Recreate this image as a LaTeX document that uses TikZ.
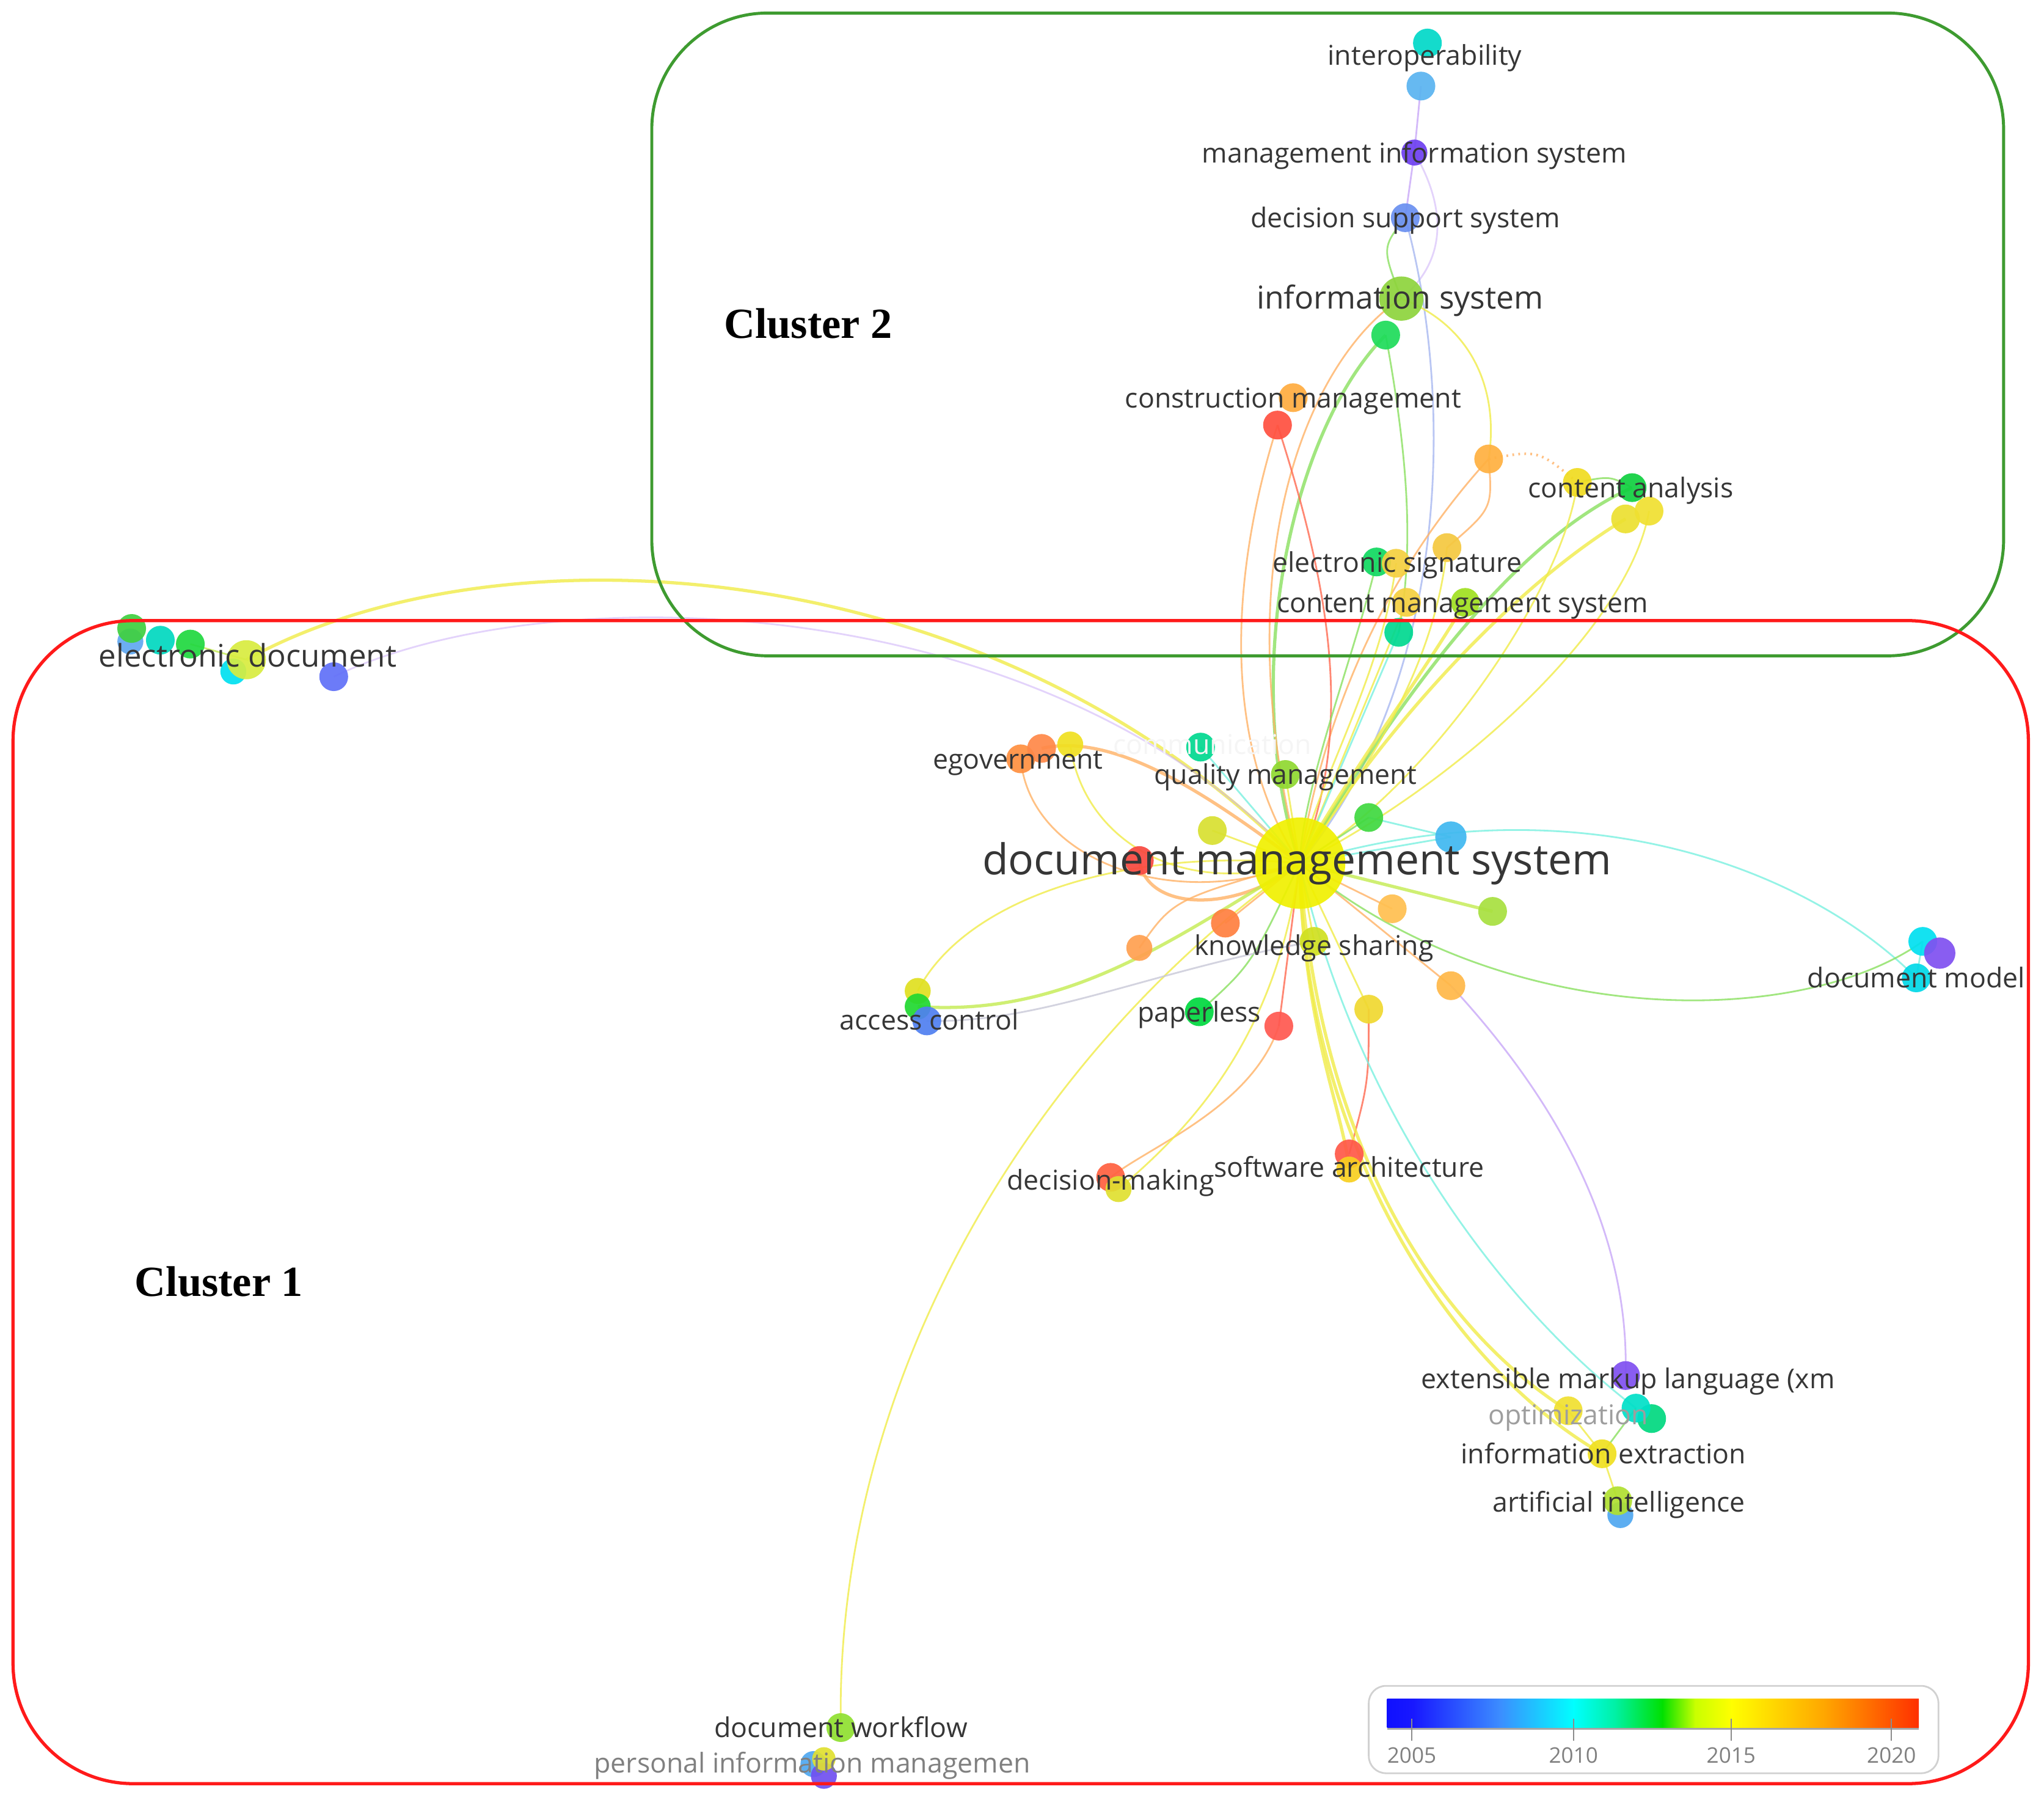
\documentclass[tikz,border=0pt]{standalone}
\usepackage{fontspec}
\setmainfont{Open Sans}
\newfontfamily\clfont{Liberation Serif}
\definecolor{txt}{HTML}{363636}
\definecolor{clgreen}{HTML}{3E9B30}
\definecolor{clred}{HTML}{FF1A1A}
\definecolor{edY}{HTML}{F0EC48}
\definecolor{edO}{HTML}{FFB266}
\definecolor{edR}{HTML}{FF6A50}
\definecolor{edG}{HTML}{8AE060}
\definecolor{edYG}{HTML}{C4EC50}
\definecolor{edC}{HTML}{7AF0E0}
\definecolor{edB}{HTML}{A8B8F0}
\definecolor{edV}{HTML}{C8A8F8}
\definecolor{edGray}{HTML}{C8C8D8}
\definecolor{gA}{HTML}{1010FF}
\definecolor{gB}{HTML}{1818FF}
\definecolor{gC}{HTML}{3C8CFF}
\definecolor{gD}{HTML}{00FFFF}
\definecolor{gE}{HTML}{00F0A0}
\definecolor{gF}{HTML}{00E000}
\definecolor{gG}{HTML}{C8FF00}
\definecolor{gH}{HTML}{FFFF00}
\definecolor{gI}{HTML}{FFA500}
\definecolor{gJ}{HTML}{FF3000}
\begin{document}
\begin{tikzpicture}[x=0.02134cm,y=-0.02134cm,
  lk/.style={draw=#1, line width=0.8pt, opacity=0.8},
  lkb/.style={draw=#1, line width=1.5pt, opacity=0.8},
  dot/.code={\definecolor{dotcol}{HTML}{#1}\pgfkeysalso{circle, fill=dotcol, inner sep=0pt, minimum size=13.4pt, opacity=0.92}},
  lbl/.style={text=txt, font=\fontsize{12.7}{14}\selectfont, inner sep=0pt, anchor=mid, yshift=-2pt},
  clbl/.style={text=black, font=\clfont\bfseries\fontsize{20}{22}\selectfont, inner sep=0pt},
  tick/.style={draw=black!45, line width=0.6pt}]
\useasboundingbox (0,0) rectangle (1568,1380.5);
\fill[white] (0,0) rectangle (1568,1380.5);

% ---------- keyword positions ----------
\coordinate (io1) at (1095,33);  \coordinate (io2) at (1090,66);
\coordinate (mis) at (1085,117); \coordinate (dss) at (1078,167);
\coordinate (is) at (1075,229);  \coordinate (is2) at (1063,257);
\coordinate (cm1) at (992,305);  \coordinate (cm2) at (980,326);
\coordinate (or1) at (1142,352);
\coordinate (ca1) at (1210,370); \coordinate (ca2) at (1252,374);
\coordinate (ca3) at (1247,398); \coordinate (ca4) at (1265,392);
\coordinate (es1) at (1056,431); \coordinate (es2) at (1071,432);
\coordinate (es3) at (1110,420);
\coordinate (cms1) at (1079,462); \coordinate (cms2) at (1124,462);
\coordinate (cms3) at (1073,485);
\coordinate (ed0) at (100,492); \coordinate (ed1) at (101,482);
\coordinate (ed2) at (123,491); \coordinate (ed3) at (146,494);
\coordinate (ed4) at (179,515); \coordinate (ed5) at (189,506);
\coordinate (ed6) at (256,519);
\coordinate (eg1) at (783,582); \coordinate (eg2) at (799,574);
\coordinate (eg3) at (821,571);
\coordinate (tq) at (921,573);  \coordinate (qm) at (986,594);
\coordinate (yg) at (930,637);  \coordinate (dms) at (997,662);
\coordinate (rd) at (874,660);  \coordinate (gr) at (1050,627);
\coordinate (lb) at (1113,642); \coordinate (or2) at (1068,697);
\coordinate (yg2) at (1145,699); \coordinate (or3) at (940,708);
\coordinate (or4) at (874,727); \coordinate (ks) at (1008,722);
\coordinate (or5) at (1113,756); \coordinate (ye) at (1050,774);
\coordinate (pl) at (920,776);  \coordinate (rd2) at (981,787);
\coordinate (ac1) at (704,760); \coordinate (ac2) at (704,772);
\coordinate (ac3) at (711,783);
\coordinate (dm1) at (1475,722); \coordinate (dm2) at (1488,731);
\coordinate (dm3) at (1470,750);
\coordinate (dmk1) at (852,903); \coordinate (dmk2) at (858,912);
\coordinate (sa1) at (1035,885); \coordinate (sa2) at (1035,897);
\coordinate (xml) at (1247,1055);
\coordinate (op1) at (1203,1082); \coordinate (op2) at (1255,1080);
\coordinate (op3) at (1267,1088);
\coordinate (ie) at (1229,1115);
\coordinate (ai1) at (1241,1151); \coordinate (ai2) at (1243,1162);
\coordinate (dw) at (645,1325);
\coordinate (pim1) at (624,1353); \coordinate (pim2) at (632,1349);
\coordinate (pim3) at (632,1362);

% ---------- links ----------
\draw[lkb=edY] (ed5) .. controls (380,400) and (760,420) .. (dms);
\draw[lk=edV, opacity=.5] (ed6) .. controls (420,440) and (800,450) .. (dms);
\draw[lk=edYG] (ed3) -- (ed5);
\draw[lk=edY] (dms) .. controls (800,800) and (640,1050) .. (dw);
\draw[lk=edV] (io2) -- (mis);
\draw[lk=edV] (mis) -- (dss);
\draw[lk=edV, opacity=.5] (mis) .. controls (1110,160) and (1110,200) .. (is);
\draw[lk=edG] (dss) .. controls (1060,190) .. (is);
\draw[lk=edB] (dss) .. controls (1115,300) and (1115,520) .. (dms);
\draw[lkb=edG] (is2) .. controls (990,330) and (950,520) .. (dms);
\draw[lk=edG] (is2) .. controls (1080,350) and (1085,420) .. (cms3);
\draw[lk=edO] (is) .. controls (1010,270) and (935,420) .. (dms);
\draw[lk=edY] (is) .. controls (1130,250) and (1150,300) .. (or1);
\draw[lk=edO] (or1) .. controls (1145,390) .. (es3);
\draw[lk=edO] (or1) .. controls (1080,420) and (1020,520) .. (dms);
\draw[lk=edO, dotted, line width=1.2pt] (or1) .. controls (1180,345) .. (ca1);
\draw[lk=edR] (cm2) .. controls (1020,450) and (1040,560) .. (dms);
\draw[lk=edO] (cm2) .. controls (950,420) and (930,560) .. (dms);
\draw[lkb=edY] (ca3) .. controls (1160,450) and (1060,560) .. (dms);
\draw[lkb=edG] (ca2) .. controls (1150,420) and (1060,560) .. (dms);
\draw[lk=edY] (ca4) .. controls (1250,480) and (1120,600) .. (dms);
\draw[lk=edY] (ca1) .. controls (1200,450) and (1100,600) .. (dms);
\draw[lk=edG] (ca2) .. controls (1235,365) .. (ca1);
\draw[lk=edY] (es2) .. controls (1060,520) and (1010,600) .. (dms);
\draw[lk=edG] (es1) .. controls (1040,500) and (1000,600) .. (dms);
\draw[lk=edY] (cms1) -- (dms);
\draw[lkb=edY] (cms2) .. controls (1090,520) and (1030,600) .. (dms);
\draw[lk=edC] (cms3) -- (dms);
\draw[lk=edY] (es3) .. controls (1100,520) and (1040,600) .. (dms);
\draw[lk=edO] (eg1) .. controls (790,660) and (900,700) .. (dms);
\draw[lkb=edO] (eg2) .. controls (860,560) and (940,620) .. (dms);
\draw[lk=edY] (eg3) .. controls (830,640) and (900,690) .. (dms);
\draw[lk=edC] (tq) -- (dms);
\draw[lk=edY] (qm) -- (dms);
\draw[lk=edY] (yg) -- (dms);
\draw[lkb=edO] (rd) .. controls (880,700) and (950,700) .. (dms);
\draw[lk=edG] (gr) -- (dms);
\draw[lk=edC] (gr) -- (lb);
\draw[lk=edC] (lb) -- (dms);
\draw[lk=edO] (or2) -- (dms);
\draw[lkb=edYG] (yg2) -- (dms);
\draw[lk=edO] (or3) -- (dms);
\draw[lk=edO] (or4) .. controls (900,690) .. (dms);
\draw[lk=edY] (ks) -- (dms);
\draw[lk=edO] (or5) -- (dms);
\draw[lk=edY] (ye) -- (dms);
\draw[lk=edG] (pl) .. controls (960,740) .. (dms);
\draw[lk=edR] (rd2) -- (dms);
\draw[lk=edY] (ac1) .. controls (740,690) and (860,650) .. (dms);
\draw[lkb=edYG] (ac2) .. controls (820,780) and (900,720) .. (dms);
\draw[lk=edGray] (ac3) .. controls (800,785) and (880,745) .. (ks);
\draw[lk=edC] (dms) .. controls (1200,600) and (1380,660) .. (dm3);
\draw[lk=edG] (dms) .. controls (1150,790) and (1380,790) .. (dm1);
\draw[lk=edC] (dm1) -- (dm3);
\draw[lkb=edY] (dms) .. controls (1000,790) and (1030,850) .. (sa2);
\draw[lk=edR] (ye) .. controls (1050,830) .. (sa1);
\draw[lk=edO] (rd2) .. controls (960,850) and (880,880) .. (dmk1);
\draw[lk=edY] (dms) .. controls (980,790) and (920,860) .. (dmk2);
\draw[lkb=edY] (dms) .. controls (1010,860) and (1090,1010) .. (op1);
\draw[lkb=edY] (dms) .. controls (1000,860) and (1100,1040) .. (ie);
\draw[lk=edC] (dms) .. controls (1040,850) and (1150,1000) .. (op2);
\draw[lk=edV] (or5) .. controls (1200,850) and (1250,950) .. (xml);
\draw[lk=edY] (ie) -- (ai1);
\draw[lk=edG] (op2) -- (ie);
\draw[lk=edY] (op1) -- (ie);

% ---------- keyword circles ----------
\node[dot=00D8C8] (d-io1) at (io1) {};
\node[dot=5AB4F0] (d-io2) at (io2) {};
\node[dot=6E40F0, minimum size=12.1pt] (d-mis) at (mis) {};
\node[dot=6A90F0] (d-dss) at (dss) {};
\node[dot=8ED43C, minimum size=20.6pt] (d-is) at (is) {};
\node[dot=1EDC5A] (d-is2) at (is2) {};
\node[dot=FFAC40] (d-cm1) at (cm1) {};
\node[dot=FF5040] (d-cm2) at (cm2) {};
\node[dot=FFB040] (d-or1) at (or1) {};
\node[dot=F0DC20] (d-ca1) at (ca1) {};
\node[dot=ECE030] (d-ca3) at (ca3) {};
\node[dot=F0E030] (d-ca4) at (ca4) {};
\node[dot=10D040] (d-ca2) at (ca2) {};
\node[dot=F5C840] (d-es3) at (es3) {};
\node[dot=10D860] (d-es1) at (es1) {};
\node[dot=F5D040] (d-es2) at (es2) {};
\node[dot=F5D040] (d-cms1) at (cms1) {};
\node[dot=A0E020] (d-cms2) at (cms2) {};
\node[dot=00D890] (d-cms3) at (cms3) {};
\node[dot=60A8F0, minimum size=12.1pt] (d-ed0) at (ed0) {};
\node[dot=40D040] (d-ed1) at (ed1) {};
\node[dot=00D8C0] (d-ed2) at (ed2) {};
\node[dot=20D840] (d-ed3) at (ed3) {};
\node[dot=00E0F0, minimum size=12.1pt] (d-ed4) at (ed4) {};
\node[dot=D8EC40, minimum size=18.2pt] (d-ed5) at (ed5) {};
\node[dot=6070F8] (d-ed6) at (ed6) {};
\node[dot=FF9040] (d-eg1) at (eg1) {};
\node[dot=FF8848] (d-eg2) at (eg2) {};
\node[dot=F0E020, minimum size=12.1pt] (d-eg3) at (eg3) {};
\node[dot=00D890] (d-tq) at (tq) {};
\node[dot=90D830] (d-qm) at (qm) {};
\node[dot=D8E030] (d-yg) at (yg) {};
\node[dot=F84840] (d-rd) at (rd) {};
\node[dot=40D840] (d-gr) at (gr) {};
\node[dot=40B8F0, minimum size=14.6pt] (d-lb) at (lb) {};
\node[dot=FFC050] (d-or2) at (or2) {};
\node[dot=A8E040] (d-yg2) at (yg2) {};
\node[dot=FF8040] (d-or3) at (or3) {};
\node[dot=FFA050, minimum size=12.1pt] (d-or4) at (or4) {};
\node[dot=D0E020] (d-ks) at (ks) {};
\node[dot=FFB848] (d-or5) at (or5) {};
\node[dot=F0D830] (d-ye) at (ye) {};
\node[dot=00D840] (d-pl) at (pl) {};
\node[dot=FF5850] (d-rd2) at (rd2) {};
\node[dot=F0F000, minimum size=42.5pt] (d-dms) at (dms) {};
\node[dot=E0E020, minimum size=12.1pt] (d-ac1) at (ac1) {};
\node[dot=20D830, minimum size=12.1pt] (d-ac2) at (ac2) {};
\node[dot=5080F0] (d-ac3) at (ac3) {};
\node[dot=00E0F0] (d-dm1) at (dm1) {};
\node[dot=00D8E8] (d-dm3) at (dm3) {};
\node[dot=8050F0, minimum size=14.6pt] (d-dm2) at (dm2) {};
\node[dot=FF6040] (d-dmk1) at (dmk1) {};
\node[dot=E0E030, minimum size=12.1pt] (d-dmk2) at (dmk2) {};
\node[dot=FF5848] (d-sa1) at (sa1) {};
\node[dot=F8D020, minimum size=12.1pt] (d-sa2) at (sa2) {};
\node[dot=8050F0] (d-xml) at (xml) {};
\node[dot=F0E030] (d-op1) at (op1) {};
\node[dot=00D880] (d-op3) at (op3) {};
\node[dot=00E0C8] (d-op2) at (op2) {};
\node[dot=F0E020] (d-ie) at (ie) {};
\node[dot=50A8F0, minimum size=12.1pt] (d-ai2) at (ai2) {};
\node[dot=B0E030] (d-ai1) at (ai1) {};
\node[dot=90E030] (d-dw) at (dw) {};
\node[dot=50A8F0, minimum size=12.1pt] (d-pim1) at (pim1) {};
\node[dot=7050F0, minimum size=12.1pt] (d-pim3) at (pim3) {};
\node[dot=E0E030, minimum size=10.9pt] (d-pim2) at (pim2) {};

% ---------- cluster frames ----------
\draw[clgreen, line width=1.4pt, rounded corners=54pt] (500,10) rectangle (1537,503);
\draw[clred, line width=1.5pt, rounded corners=56pt] (10,476) rectangle (1556,1368);

% ---------- labels ----------
\node[lbl] (l-io) at (1093,42) {interoperability};
\node[lbl] (l-mis) at (1085,117) {management information system};
\node[lbl] (l-dss) at (1078,167) {decision support system};
\node[lbl, font=\fontsize{14.7}{16}\selectfont] (l-is) at (1074,229) {information system};
\node[lbl] (l-cm) at (992,305) {construction management};
\node[lbl] (l-ca) at (1251,374) {content analysis};
\node[lbl] (l-es) at (1072,431) {electronic signature};
\node[lbl] (l-cms) at (1122,462) {content management system};
\node[lbl, font=\fontsize{14.5}{16}\selectfont] (l-ed) at (190,504) {electronic document};
\node[lbl] (l-eg) at (781,582) {egovernment};
\node[lbl, text=black!4] (l-com) at (930,571) {communication};
\node[lbl] (l-qm) at (986,594) {quality management};
\node[lbl, font=\fontsize{19.8}{22}\selectfont, yshift=-2pt] (l-dms) at (995,660) {document management system};
\node[lbl] (l-ks) at (1008,725) {knowledge sharing};
\node[lbl] (l-ac) at (713,782) {access control};
\node[lbl] (l-pl) at (920,776) {paperless};
\node[lbl] (l-dm) at (1470,750) {document model};
\node[lbl] (l-dmk) at (852,905) {decision-making};
\node[lbl] (l-sa) at (1035,895) {software architecture};
\node[lbl] (l-xml) at (1249,1057) {extensible markup language (xm};
\node[lbl, text=black!38] (l-op) at (1203,1085) {optimization};
\node[lbl] (l-ie) at (1230,1115) {information extraction};
\node[lbl] (l-ai) at (1242,1152) {artificial intelligence};
\node[lbl] (l-dw) at (645,1325) {document workflow};
\node[lbl, text=black!50] (l-pim) at (623,1352) {personal information managemen};

\node[clbl] (c2) at (620,248) {Cluster 2};
\node[clbl] (c1) at (168,983) {Cluster 1};

% ---------- colour legend ----------
\draw[black!18, line width=0.8pt, rounded corners=8pt, fill=white] (1050,1293) rectangle (1487,1360);
\shade[left color=gA, right color=gB] (1064,1303) rectangle (1084.5,1325);
\shade[left color=gB, right color=gC] (1084,1303) rectangle (1150.5,1325);
\shade[left color=gC, right color=gD] (1150,1303) rectangle (1207.5,1325);
\shade[left color=gD, right color=gE] (1207,1303) rectangle (1240.5,1325);
\shade[left color=gE, right color=gF] (1240,1303) rectangle (1275.5,1325);
\shade[left color=gF, right color=gG] (1275,1303) rectangle (1300.5,1325);
\shade[left color=gG, right color=gH] (1300,1303) rectangle (1328.5,1325);
\shade[left color=gH, right color=gI] (1328,1303) rectangle (1400.5,1325);
\shade[left color=gI, right color=gJ] (1400,1303) rectangle (1472,1325);
\draw[black!35, line width=1pt] (1064,1326) -- (1472,1326);
\draw[tick] (1083,1318) -- (1083,1335);
\draw[tick] (1207,1318) -- (1207,1335);
\draw[tick] (1328,1318) -- (1328,1335);
\draw[tick] (1451,1318) -- (1451,1335);
\node[lbl, text=black!50, font=\fontsize{10}{12}\selectfont, yshift=1pt] (y1) at (1083,1346) {2005};
\node[lbl, text=black!50, font=\fontsize{10}{12}\selectfont, yshift=1pt] (y2) at (1207,1346) {2010};
\node[lbl, text=black!50, font=\fontsize{10}{12}\selectfont, yshift=1pt] (y3) at (1328,1346) {2015};
\node[lbl, text=black!50, font=\fontsize{10}{12}\selectfont, yshift=1pt] (y4) at (1451,1346) {2020};
\end{tikzpicture}
\end{document}
